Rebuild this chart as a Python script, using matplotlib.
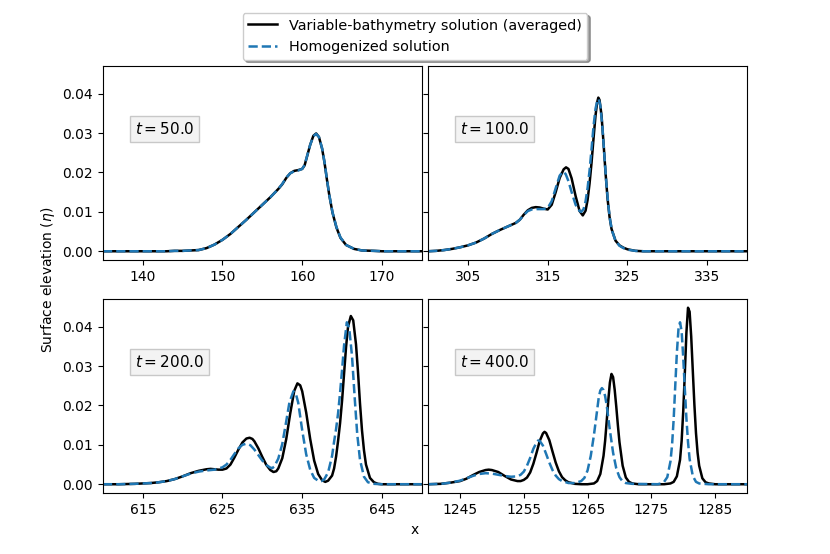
import matplotlib
matplotlib.use("Agg")
import matplotlib.pyplot as plt

# time of each snapshot
times = [50.0, 100.0, 200.0, 400.0]
xlims = [(135, 175), (300, 340), (610, 650), (1240, 1290)]
xticks = [[140, 150, 160, 170], [305, 315, 325, 335],
          [615, 625, 635, 645], [1245, 1255, 1265, 1275, 1285]]

# t = 50
x_var_50 = [135, 143, 144, 145, 146, 147, 148, 149, 150, 151, 152, 153, 154, 155, 156, 157,
            157.5, 158, 158.5, 159, 159.5, 160, 160.3, 160.6, 161, 161.4, 161.75, 162.1, 162.5,
            162.8, 163.1, 163.4, 163.8, 164.3, 164.8, 165.5, 166.5, 167.5, 169, 170, 175]
eta_var_50 = [0, 0, 0.0001, 0.0001, 0.0002, 0.0003, 0.0008, 0.0017, 0.0029, 0.0044, 0.0062,
              0.0080, 0.0099, 0.0118, 0.0137, 0.0158, 0.0170, 0.0186, 0.0198, 0.0204, 0.0206,
              0.0209, 0.0218, 0.0240, 0.0270, 0.0293, 0.0299, 0.0290, 0.0260, 0.0225, 0.0182,
              0.0142, 0.0098, 0.0060, 0.0034, 0.0016, 0.0006, 0.0002, 0.0001, 0, 0]
x_hom_50 = x_var_50
eta_hom_50 = [0, 0, 0.0001, 0.0001, 0.0002, 0.0003, 0.0008, 0.0017, 0.0029, 0.0044, 0.0062,
              0.0080, 0.0099, 0.0118, 0.0137, 0.0158, 0.0171, 0.0187, 0.0198, 0.0203, 0.0205,
              0.0209, 0.0219, 0.0241, 0.0270, 0.0292, 0.0298, 0.0290, 0.0261, 0.0226, 0.0183,
              0.0143, 0.0099, 0.0061, 0.0035, 0.0016, 0.0006, 0.0002, 0.0001, 0, 0]

# t = 100
x_var_100 = [300, 301, 302, 303, 304, 305, 306, 307, 308, 309, 310, 311, 311.5, 312, 312.5,
             313, 313.5, 314, 314.5, 315, 315.5, 316, 316.5, 317, 317.3, 317.6, 318, 318.5,
             319, 319.4, 319.75, 320, 320.25, 320.5, 320.75, 321, 321.2, 321.35, 321.5, 321.75,
             322, 322.25, 322.5, 322.75, 323, 323.5, 324, 324.5, 325, 325.5, 326, 327, 340]
eta_var_100 = [0, 0.0001, 0.0003, 0.0006, 0.0010, 0.0015, 0.0022, 0.0032, 0.0044, 0.0054,
               0.0063, 0.0072, 0.0080, 0.0093, 0.0104, 0.0110, 0.0112, 0.0111, 0.0108, 0.0106,
               0.0118, 0.0150, 0.0186, 0.0208, 0.0213, 0.0209, 0.0185, 0.0140, 0.0102, 0.0091,
               0.0103, 0.0130, 0.0172, 0.0225, 0.0287, 0.0345, 0.0378, 0.0390, 0.0384, 0.0345,
               0.0275, 0.0200, 0.0135, 0.0088, 0.0057, 0.0027, 0.0015, 0.0009, 0.0005, 0.0003,
               0.0001, 0, 0]
x_hom_100 = [300, 301, 302, 303, 304, 305, 306, 307, 308, 309, 310, 311, 311.5, 312, 312.5,
             313, 313.5, 314, 314.5, 315, 315.5, 316, 316.5, 316.9, 317.25, 317.6, 318, 318.5,
             319, 319.2, 319.5, 319.75, 320, 320.25, 320.5, 320.75, 321, 321.25, 321.4, 321.6,
             321.85, 322.1, 322.35, 322.6, 322.85, 323.1, 323.5, 324, 324.5, 325, 326, 327, 340]
eta_hom_100 = [0, 0.0001, 0.0003, 0.0006, 0.0010, 0.0015, 0.0022, 0.0032, 0.0044, 0.0054,
               0.0063, 0.0072, 0.0080, 0.0092, 0.0102, 0.0106, 0.0107, 0.0107, 0.0107, 0.0110,
               0.0127, 0.0160, 0.0192, 0.0202, 0.0196, 0.0178, 0.0150, 0.0118, 0.0102, 0.0100,
               0.0107, 0.0127, 0.0160, 0.0205, 0.0260, 0.0318, 0.0362, 0.0385, 0.0386, 0.0370,
               0.0318, 0.0245, 0.0175, 0.0117, 0.0076, 0.0050, 0.0027, 0.0014, 0.0008, 0.0004,
               0.0001, 0, 0]

# t = 200
x_var_200 = [610, 612, 614, 615, 616, 617, 618, 619, 620, 621, 622, 623, 623.5, 624, 624.5,
             625, 625.5, 626, 626.5, 627, 627.5, 628, 628.4, 628.75, 629, 629.5, 630, 630.5,
             631, 631.4, 631.75, 632, 632.5, 633, 633.5, 634, 634.4, 634.75, 635, 635.5, 636,
             636.5, 637, 637.5, 637.9, 638.25, 638.75, 639, 639.25, 639.5, 639.75, 640, 640.25,
             640.5, 640.75, 641.1, 641.4, 641.75, 642, 642.25, 642.5, 642.75, 643, 643.5,
             644, 644.5, 645, 646, 650]
eta_var_200 = [0, 0, 0.0001, 0.0002, 0.0003, 0.0005, 0.0008, 0.0013, 0.0020, 0.0028, 0.0034,
               0.0038, 0.0039, 0.0038, 0.0037, 0.0037, 0.0040, 0.0050, 0.0068, 0.0088, 0.0106,
               0.0116, 0.0118, 0.0115, 0.0109, 0.0091, 0.0069, 0.0049, 0.0036, 0.0031, 0.0033,
               0.0040, 0.0066, 0.0115, 0.0180, 0.0237, 0.0256, 0.0251, 0.0236, 0.0182, 0.0115,
               0.0060, 0.0026, 0.0010, 0.0006, 0.0009, 0.0022, 0.0040, 0.0070, 0.0110, 0.0155,
               0.0212, 0.0280, 0.0348, 0.0400, 0.0427, 0.0416, 0.0355, 0.0285, 0.0205, 0.0137,
               0.0086, 0.0050, 0.0016, 0.0005, 0.0001, 0, 0, 0]
x_hom_200 = [610, 612, 614, 615, 616, 617, 618, 619, 620, 621, 622, 623, 624, 625, 625.5, 626,
             626.5, 627, 627.5, 628, 628.5, 629, 629.5, 630, 630.5, 631, 631.25, 631.5, 632,
             632.5, 633, 633.4, 633.9, 634.25, 634.5, 635, 635.5, 636, 636.5, 637, 637.4,
             637.75, 638.25, 638.75, 639, 639.25, 639.5, 639.75, 640, 640.25, 640.6, 640.9,
             641.25, 641.6, 641.9, 642.25, 642.75, 643.25, 644, 645, 650]
eta_hom_200 = [0, 0, 0.0001, 0.0002, 0.0003, 0.0005, 0.0008, 0.0013, 0.0020, 0.0027, 0.0032,
               0.0035, 0.0037, 0.0043, 0.0050, 0.0062, 0.0077, 0.0091, 0.0100, 0.0103, 0.0099,
               0.0088, 0.0074, 0.0060, 0.0049, 0.0042, 0.0041, 0.0045, 0.0065, 0.0102, 0.0160,
               0.0208, 0.0236, 0.0226, 0.0207, 0.0137, 0.0076, 0.0037, 0.0016, 0.0009, 0.0008,
               0.0012, 0.0030, 0.0072, 0.0108, 0.0140, 0.0180, 0.0232, 0.0290, 0.0352, 0.0411,
               0.0396, 0.0325, 0.0215, 0.0128, 0.0062, 0.0019, 0.0005, 0.0001, 0, 0]

# t = 400
x_var_400 = [1240, 1242, 1243.5, 1245, 1246, 1247, 1248, 1249, 1249.5, 1250, 1251, 1252, 1253,
             1254, 1254.5, 1255, 1255.5, 1256, 1256.5, 1257, 1257.5, 1258, 1258.25, 1258.5,
             1259, 1259.5, 1260, 1260.5, 1261, 1261.5, 1262, 1263, 1264, 1265, 1266, 1266.5,
             1267, 1267.5, 1267.75, 1268, 1268.25, 1268.5, 1268.75, 1269, 1269.25, 1269.5,
             1269.75, 1270, 1270.5, 1271, 1271.5, 1272, 1273, 1277, 1278, 1278.5, 1279, 1279.5,
             1279.75, 1280, 1280.25, 1280.5, 1280.75, 1281, 1281.25, 1281.5, 1281.75, 1282,
             1282.25, 1282.5, 1283, 1283.5, 1284, 1285, 1290]
eta_var_400 = [0, 0.0001, 0.0004, 0.0008, 0.0014, 0.0023, 0.0031, 0.0036, 0.0037, 0.0036,
               0.0031, 0.0021, 0.0012, 0.0008, 0.0008, 0.0011, 0.0017, 0.0030, 0.0052, 0.0080,
               0.0110, 0.0129, 0.0133, 0.0130, 0.0112, 0.0083, 0.0055, 0.0033, 0.0018, 0.0010,
               0.0005, 0.0001, 0, 0, 0.0002, 0.0008, 0.0026, 0.0072, 0.0110, 0.0160, 0.0213,
               0.0258, 0.0280, 0.0272, 0.0240, 0.0197, 0.0150, 0.0107, 0.0047, 0.0017, 0.0006,
               0.0002, 0, 0, 0.0002, 0.0006, 0.0020, 0.0062, 0.0110, 0.0185, 0.0282, 0.0385,
               0.0448, 0.0438, 0.0375, 0.0288, 0.0202, 0.0130, 0.0080, 0.0047, 0.0015, 0.0005,
               0.0002, 0, 0]
x_hom_400 = [1240, 1242, 1243.5, 1245, 1246, 1247, 1248, 1249, 1250, 1251, 1252, 1253, 1254,
             1254.5, 1255, 1255.5, 1256, 1256.5, 1257, 1257.25, 1257.5, 1258, 1258.5, 1259,
             1259.5, 1260, 1260.5, 1261, 1262, 1263, 1264, 1264.5, 1265, 1265.5, 1266, 1266.5,
             1266.75, 1267, 1267.25, 1267.5, 1267.75, 1268, 1268.5, 1269, 1269.5, 1270, 1270.5,
             1271, 1272, 1276, 1276.5, 1277, 1277.5, 1278, 1278.25, 1278.5, 1278.75, 1279,
             1279.25, 1279.5, 1279.75, 1280, 1280.25, 1280.5, 1280.75, 1281, 1281.5, 1282,
             1282.5, 1284, 1290]
eta_hom_400 = [0, 0.0001, 0.0004, 0.0009, 0.0015, 0.0021, 0.0026, 0.0028, 0.0027, 0.0024,
               0.0021, 0.0019, 0.0020, 0.0024, 0.0032, 0.0047, 0.0067, 0.0090, 0.0106, 0.0111,
               0.0110, 0.0098, 0.0077, 0.0055, 0.0036, 0.0022, 0.0013, 0.0008, 0.0003, 0.0003,
               0.0008, 0.0016, 0.0035, 0.0072, 0.0125, 0.0188, 0.0220, 0.0238, 0.0244, 0.0239,
               0.0224, 0.0200, 0.0137, 0.0080, 0.0040, 0.0018, 0.0007, 0.0003, 0.0001, 0, 0.0002,
               0.0006, 0.0018, 0.0058, 0.0100, 0.0165, 0.0250, 0.0333, 0.0393, 0.0411, 0.0388,
               0.0322, 0.0242, 0.0167, 0.0107, 0.0064, 0.0021, 0.0006, 0.0002, 0, 0]

x_var = [x_var_50, x_var_100, x_var_200, x_var_400]
eta_var = [eta_var_50, eta_var_100, eta_var_200, eta_var_400]
x_hom = [x_hom_50, x_hom_100, x_hom_200, x_hom_400]
eta_hom = [eta_hom_50, eta_hom_100, eta_hom_200, eta_hom_400]

fig, axes = plt.subplots(2, 2, figsize=(8.3, 5.54), dpi=100, sharey=True)
fig.subplots_adjust(left=0.124, right=0.9, top=0.881, bottom=0.11, wspace=0.02, hspace=0.2)

for i, ax in enumerate(axes.flat):
    ax.plot(x_var[i], eta_var[i], color="black", lw=1.8, solid_joinstyle="round",
            label="Variable-bathymetry solution (averaged)")
    ax.plot(x_hom[i], eta_hom[i], color="tab:blue", lw=1.8, ls="--",
            label="Homogenized solution")
    ax.set_xlim(*xlims[i])
    ax.set_xticks(xticks[i])
    ax.text(0.1, 0.675, f"$t = {times[i]:.1f}$", transform=ax.transAxes,
            fontsize=11, va="center", ha="left",
            bbox=dict(boxstyle="square,pad=0.3", facecolor="#f3f3f3", edgecolor="#c8c8c8"))

axes[0, 0].set_yticks([0.0, 0.01, 0.02, 0.03, 0.04])

handles, labels = axes[0, 0].get_legend_handles_labels()
fig.legend(handles, labels, loc="upper center", bbox_to_anchor=(0.5, 0.99),
           shadow=True, fontsize=10.4)

fig.text(0.058, 0.495, r"Surface elevation ($\eta$)", rotation=90, ha="center",
         va="center", fontsize=10)
fig.text(0.5, 0.043, "x", ha="center", va="center", fontsize=10)

fig.savefig("out.png", dpi=100)
